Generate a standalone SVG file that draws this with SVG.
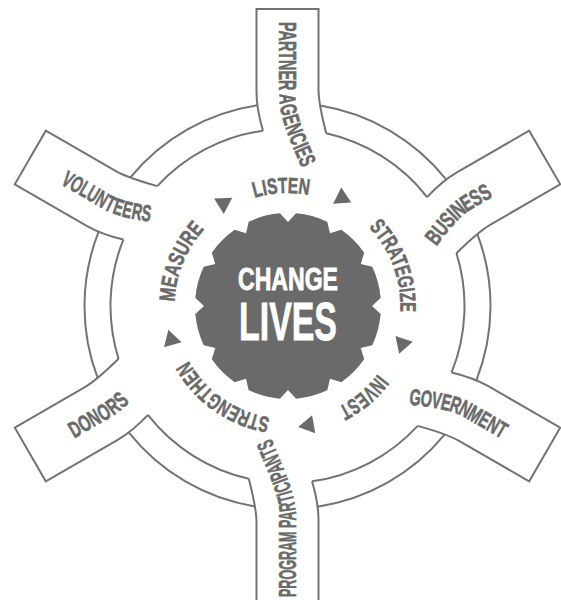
<svg xmlns="http://www.w3.org/2000/svg" width="561" height="600" viewBox="0 0 561 600">
<style>
.t{font-family:"Liberation Sans Narrow","Liberation Sans",Arial,sans-serif;font-weight:bold;font-size:23px;fill:#6a6a6a;stroke:#6a6a6a;stroke-width:0.6px;stroke-linejoin:round}
.r{font-size:22px}
.c{dominant-baseline:central}
.w{font-family:"Liberation Sans Narrow","Liberation Sans",Arial,sans-serif;font-weight:bold;fill:#ffffff;stroke:#ffffff;stroke-width:0.8px;text-anchor:middle}
</style>
<defs>
<path id="spoke" fill="none" stroke="#737373" stroke-width="2" stroke-linejoin="miter" d="M-24.5,-175.3 Q-31,-197 -31,-214 L-31,-297 L31,-297 L31,-216 Q31,-203 38.7,-172.7"/>
<path id="arcs" fill="none" stroke="#737373" stroke-width="2" d="M32.6,-200.4 A203,203 0 0 1 158.8,-126.4 M38.7,-172.7 A177,177 0 0 1 139.6,-108.9"/>
<path id="pIn" d="M0,-297 L0,-208 C0,-190 10,-168 22,-140 L28,-126"/>
<path id="pOut" d="M28,-126 L22,-140 C10,-168 0,-190 0,-208 L0,-297"/>
<path id="ringPath" d="M0,113 A113,113 0 1 1 0,-113 A113,113 0 1 1 0,113"/>
<polygon id="tri" fill="#6a6a6a" points="10.5,-121 -5.25,-111.9 -5.25,-130.1"/>
</defs>

<g id="ring" transform="translate(287.5 306)">
<use href="#arcs"/>
<use href="#arcs" transform="rotate(60)"/>
<use href="#arcs" transform="rotate(120)"/>
<use href="#arcs" transform="rotate(180)"/>
<use href="#arcs" transform="rotate(240)"/>
<use href="#arcs" transform="rotate(300)"/>
</g>

<g id="partner-agencies" transform="translate(287.5 306)">
<use href="#spoke"/>
<text class="t c"><textPath href="#pIn" startOffset="13" textLength="147" lengthAdjust="spacingAndGlyphs">PARTNER AGENCIES</textPath></text>
</g>
<g id="business" transform="translate(287.5 306) rotate(60)">
<use href="#spoke"/>
<text class="t c"><textPath href="#pOut" startOffset="32" textLength="80" lengthAdjust="spacingAndGlyphs">BUSINESS</textPath></text>
</g>
<g id="government" transform="translate(287.5 306) rotate(120)">
<use href="#spoke"/>
<text class="t c"><textPath href="#pOut" startOffset="27" textLength="104" lengthAdjust="spacingAndGlyphs">GOVERNMENT</textPath></text>
</g>
<g id="program-participants" transform="translate(287.5 306) rotate(180)">
<use href="#spoke"/>
<text class="t c"><textPath href="#pIn" startOffset="6" textLength="160" lengthAdjust="spacingAndGlyphs">PROGRAM PARTICIPANTS</textPath></text>
</g>
<g id="donors" transform="translate(287.5 306) rotate(240)">
<use href="#spoke"/>
<text class="t c"><textPath href="#pIn" startOffset="46" textLength="65" lengthAdjust="spacingAndGlyphs">DONORS</textPath></text>
</g>
<g id="volunteers" transform="translate(287.5 306) rotate(300)">
<use href="#spoke"/>
<text class="t c"><textPath href="#pIn" startOffset="39" textLength="96" lengthAdjust="spacingAndGlyphs">VOLUNTEERS</textPath></text>
</g>

<g id="change-lives">
<path fill="#6a6a6a" transform="translate(288 306)" d="M0,-84 L8.11,-92.65 A93,93 0 0 1 39.30,-84.29 L42,-72.75 L53.34,-76.18 A93,93 0 0 1 76.18,-53.34 L72.75,-42 L84.29,-39.30 A93,93 0 0 1 92.65,-8.11 L84,0 L92.65,8.11 A93,93 0 0 1 84.29,39.30 L72.75,42 L76.18,53.34 A93,93 0 0 1 53.34,76.18 L42,72.75 L39.30,84.29 A93,93 0 0 1 8.11,92.65 L0,84 L-8.11,92.65 A93,93 0 0 1 -39.30,84.29 L-42,72.75 L-53.34,76.18 A93,93 0 0 1 -76.18,53.34 L-72.75,42 L-84.29,39.30 A93,93 0 0 1 -92.65,8.11 L-84,0 L-92.65,-8.11 A93,93 0 0 1 -84.29,-39.30 L-72.75,-42 L-76.18,-53.34 A93,93 0 0 1 -53.34,-76.18 L-42,-72.75 L-39.30,-84.29 A93,93 0 0 1 -8.11,-92.65 Z"/>
<text class="w" x="288" y="290" font-size="30.5" textLength="100" lengthAdjust="spacingAndGlyphs">CHANGE</text>
<text class="w" x="288" y="340" font-size="53.5" textLength="98" lengthAdjust="spacingAndGlyphs">LIVES</text>
</g>

<g id="listen" transform="translate(287.5 306)"><text class="t r" text-anchor="middle"><textPath href="#ringPath" startOffset="348.7" textLength="55" lengthAdjust="spacingAndGlyphs">LISTEN</textPath></text></g>
<g id="strategize" transform="translate(287.5 306)"><text class="t r" text-anchor="middle"><textPath href="#ringPath" startOffset="491.5" textLength="93" lengthAdjust="spacingAndGlyphs">STRATEGIZE</textPath></text></g>
<g id="invest" transform="translate(287.5 306)"><text class="t r" text-anchor="middle"><textPath href="#ringPath" startOffset="630.9" textLength="52" lengthAdjust="spacingAndGlyphs">INVEST</textPath></text></g>
<g id="strengthen" transform="translate(287.5 306)"><text class="t r" text-anchor="middle"><textPath href="#ringPath" startOffset="69" textLength="103" lengthAdjust="spacingAndGlyphs">STRENGTHEN</textPath></text></g>
<g id="measure" transform="translate(287.5 306)"><text class="t r" text-anchor="middle"><textPath href="#ringPath" startOffset="221.7" textLength="80" lengthAdjust="spacingAndGlyphs">MEASURE</textPath></text></g>

<g id="connectors" transform="translate(287.5 306)">
<use href="#tri" transform="rotate(26.7)"/>
<use href="#tri" transform="rotate(108.2)"/>
<use href="#tri" transform="rotate(170)"/>
<use href="#tri" transform="rotate(253.8)"/>
<use href="#tri" transform="rotate(328)"/>
</g>
</svg>
